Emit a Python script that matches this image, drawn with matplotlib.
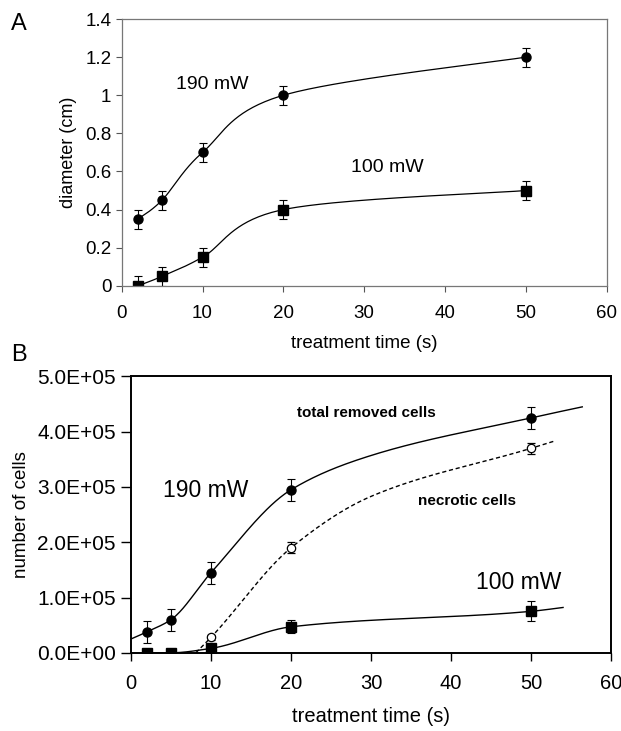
import numpy as np
import matplotlib
matplotlib.use('Agg')
import matplotlib.pyplot as plt

plt.rcParams['font.family'] = ['Liberation Sans', 'DejaVu Sans']

# Painel A - diâmetro
tempo = [2, 5, 10, 20, 50]
diam_190 = [0.35, 0.45, 0.70, 1.00, 1.20]
diam_190_err = [0.05, 0.05, 0.05, 0.05, 0.05]
diam_100 = [0.0, 0.05, 0.15, 0.40, 0.50]
diam_100_err = [0.05, 0.05, 0.05, 0.05, 0.05]

# Painel B - número de células
cel_190 = [0.38e5, 0.60e5, 1.45e5, 2.95e5, 4.25e5]
cel_190_err = [0.2e5, 0.2e5, 0.2e5, 0.2e5, 0.2e5]
necro_x = [10, 20, 50]
necro = [0.28e5, 1.90e5, 3.70e5]
necro_err = [0.05e5, 0.1e5, 0.1e5]
cel_100 = [0.0, 0.0, 0.08e5, 0.47e5, 0.75e5]
cel_100_err = [0.02e5, 0.02e5, 0.04e5, 0.12e5, 0.18e5]

# curvas suavizadas (incluindo extensões)
curva_190_x = [0, 2, 5, 10, 20, 30, 50, 56.4]
curva_190_y = [0.25e5, 0.38e5, 0.60e5, 1.45e5, 2.95e5, 3.57e5, 4.25e5, 4.45e5]
curva_necro_x = [8.1, 10, 20, 30, 50, 52.9]
curva_necro_y = [0.0, 0.28e5, 1.90e5, 2.83e5, 3.70e5, 3.83e5]
curva_100_x = [2, 5, 10, 20, 50, 54]
curva_100_y = [0.0, 0.0, 0.08e5, 0.47e5, 0.75e5, 0.82e5]


def suavizar(xs, ys, sx, sy, n=40):
    # linha suavizada estilo Excel (Bezier com tangentes tipo Catmull-Rom)
    p = np.column_stack([np.array(xs, float) / sx, np.array(ys, float) / sy])
    out = []
    for i in range(len(p) - 1):
        p0 = p[i - 1] if i > 0 else p[i]
        p3 = p[i + 2] if i + 2 < len(p) else p[i + 1]
        c1 = p[i] + (p[i + 1] - p0) / 6
        c2 = p[i + 1] - (p3 - p[i]) / 6
        t = np.linspace(0, 1, n)[:, None]
        seg = ((1 - t) ** 3 * p[i] + 3 * (1 - t) ** 2 * t * c1
               + 3 * (1 - t) * t ** 2 * c2 + t ** 3 * p[i + 1])
        out.append(seg)
    out = np.vstack(out)
    return out[:, 0] * sx, out[:, 1] * sy


def pchip(xs, ys, n=400):
    # interpolação cúbica monótona (Fritsch-Carlson)
    x = np.array(xs, float)
    y = np.array(ys, float)
    h = np.diff(x)
    d = np.diff(y) / h
    m = np.zeros_like(x)
    for k in range(1, len(x) - 1):
        if d[k - 1] * d[k] > 0:
            w1 = 2 * h[k] + h[k - 1]
            w2 = h[k] + 2 * h[k - 1]
            m[k] = (w1 + w2) / (w1 / d[k - 1] + w2 / d[k])
    m[0] = ((2 * h[0] + h[1]) * d[0] - h[0] * d[1]) / (h[0] + h[1])
    if np.sign(m[0]) != np.sign(d[0]):
        m[0] = 0
    m[-1] = ((2 * h[-1] + h[-2]) * d[-1] - h[-1] * d[-2]) / (h[-1] + h[-2])
    if np.sign(m[-1]) != np.sign(d[-1]):
        m[-1] = 0
    xx = np.linspace(x[0], x[-1], n)
    idx = np.clip(np.searchsorted(x, xx) - 1, 0, len(x) - 2)
    t = (xx - x[idx]) / h[idx]
    h00 = 2 * t ** 3 - 3 * t ** 2 + 1
    h10 = t ** 3 - 2 * t ** 2 + t
    h01 = -2 * t ** 3 + 3 * t ** 2
    h11 = t ** 3 - t ** 2
    yy = (h00 * y[idx] + h10 * h[idx] * m[idx]
          + h01 * y[idx + 1] + h11 * h[idx] * m[idx + 1])
    return xx, yy


fig = plt.figure(figsize=(6.21, 7.31), dpi=100)

# ---------------- Painel A ----------------
axA = fig.add_axes([0.196, 0.609, 0.781, 0.365])
for y, e, m in [(diam_190, diam_190_err, 'o'), (diam_100, diam_100_err, 's')]:
    cx, cy = suavizar(tempo, y, 60, 1.4)
    axA.plot(cx, cy, color='black', lw=0.9)
    axA.errorbar(tempo, y, yerr=e, fmt=m, color='black', ms=6.5,
                 elinewidth=0.8, capsize=3, capthick=0.8)
axA.set_xlim(0, 60)
axA.set_ylim(0, 1.4)
axA.set_xticks(range(0, 61, 10))
axA.set_yticks([0, 0.2, 0.4, 0.6, 0.8, 1.0, 1.2, 1.4])
axA.set_yticklabels(['0', '0.2', '0.4', '0.6', '0.8', '1', '1.2', '1.4'])
axA.tick_params(labelsize=13.5, direction='out', length=4.5, color='#555555')
axA.tick_params(axis='x', pad=9)
axA.tick_params(axis='y', pad=3)
for s in axA.spines.values():
    s.set_color('#777777')
    s.set_linewidth(0.9)
axA.set_xlabel('treatment time (s)', fontsize=13.5, labelpad=10)
axA.set_ylabel('diameter (cm)', fontsize=13, labelpad=6)
axA.text(11.2, 1.055, '190 mW', fontsize=14, ha='center', va='center')
axA.text(32.9, 0.62, '100 mW', fontsize=14, ha='center', va='center')
fig.text(0.018, 0.967, 'A', fontsize=17, va='center')

# ---------------- Painel B ----------------
axB = fig.add_axes([0.211, 0.107, 0.773, 0.378])
cx, cy = pchip(curva_190_x, curva_190_y)
axB.plot(cx, cy, color='black', lw=1.0)
cx, cy = pchip(curva_necro_x, curva_necro_y)
axB.plot(cx, cy, color='black', lw=1.0, ls=(0, (3, 2)))
cx, cy = pchip(curva_100_x, curva_100_y)
axB.plot(cx, cy, color='black', lw=1.0)
axB.errorbar(tempo, cel_190, yerr=cel_190_err, fmt='o', color='black', ms=6.5,
             elinewidth=0.8, capsize=3, capthick=0.8)
axB.errorbar(necro_x, necro, yerr=necro_err, fmt='o', color='black', mfc='white',
             ms=6, mew=0.9, elinewidth=0.8, capsize=3, capthick=0.8)
axB.errorbar(tempo, cel_100, yerr=cel_100_err, fmt='s', color='black', ms=6.5,
             elinewidth=0.8, capsize=3, capthick=0.8)
axB.set_xlim(0, 60)
axB.set_ylim(0, 5e5)
axB.set_xticks(range(0, 61, 10))
axB.set_yticks(np.arange(0, 5.01e5, 1e5))
axB.set_yticklabels(['%.1fE+05' % (v / 1e5) if v > 0 else '0.0E+00'
                     for v in np.arange(0, 5.01e5, 1e5)])
axB.tick_params(labelsize=15, direction='out', width=1)
axB.tick_params(axis='x', labelsize=14.5)
axB.tick_params(axis='y', length=7, pad=4)
axB.tick_params(axis='x', length=5.5, pad=10)
for s in axB.spines.values():
    s.set_linewidth(1.4)
axB.set_xlabel('treatment time (s)', fontsize=14.5, labelpad=10)
axB.set_ylabel('number of cells', fontsize=13.5, labelpad=5)
axB.text(9.3, 2.93e5, '190 mW', fontsize=16.5, ha='center', va='center')
axB.text(48.5, 1.27e5, '100 mW', fontsize=16.5, ha='center', va='center')
axB.text(29.4, 4.33e5, 'total removed cells', fontsize=11, fontweight='bold',
         ha='center', va='center')
axB.text(42, 2.74e5, 'necrotic cells', fontsize=11, fontweight='bold',
         ha='center', va='center')
fig.text(0.018, 0.514, 'B', fontsize=17, va='center')

fig.savefig('out.png', dpi=100)
